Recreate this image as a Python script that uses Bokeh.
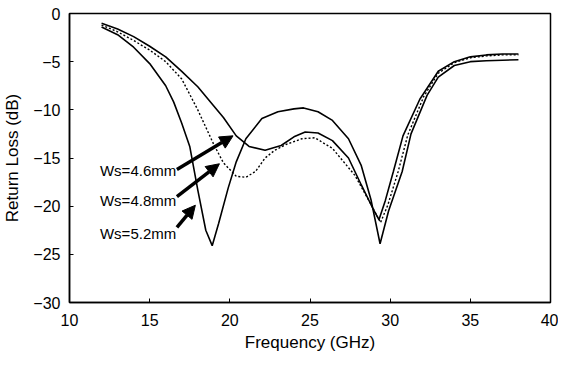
from bokeh.plotting import figure
from bokeh.models import Arrow, NormalHead, FixedTicker
from bokeh.core.properties import value
from bokeh.embed import file_html
from bokeh.resources import INLINE

# Ws = 4.6 mm (solid)
freq_46 = [12.0, 13.0, 14.0, 15.0, 16.0, 17.0, 18.0, 19.0, 19.6, 20.4, 21.2, 22.2, 23.2, 24.0, 24.7,
           25.5, 26.4, 27.4, 28.2, 29.0, 29.3, 29.7, 30.2, 30.8, 31.85, 33.0, 34.0, 35.0, 36.0, 37.0, 38.0]
rl_46 = [-1.0, -1.6, -2.4, -3.4, -4.5, -6.0, -7.6, -9.6, -10.8, -12.7, -13.8, -14.2, -13.7, -12.8, -12.3,
         -12.4, -13.2, -15.0, -17.8, -20.5, -21.4, -19.4, -16.4, -12.7, -8.9, -6.0, -5.0, -4.5, -4.3, -4.2, -4.2]

# Ws = 4.8 mm (dotted)
freq_48 = [12.0, 13.0, 14.0, 15.0, 16.0, 17.0, 18.0, 19.0, 19.6, 20.4, 21.0, 21.6, 22.2, 22.8, 23.5,
           24.5, 25.3, 26.4, 27.8, 28.8, 29.4, 29.85, 30.5, 31.1, 32.1, 33.0, 34.0, 35.0, 36.0, 37.0, 38.0]
rl_48 = [-1.2, -1.9, -2.8, -3.8, -5.0, -6.8, -10.0, -13.6, -15.5, -16.9, -17.0, -16.4, -15.0, -14.2, -13.6,
         -13.0, -12.9, -14.0, -16.8, -19.8, -21.7, -19.9, -16.4, -12.6, -8.6, -6.2, -5.1, -4.6, -4.4, -4.3, -4.3]

# Ws = 5.2 mm (solid, deep)
freq_52 = [12.0, 13.0, 14.0, 15.0, 16.0, 16.5, 17.0, 17.5, 18.0, 18.5, 18.9, 19.3, 19.9, 20.4, 21.0,
           22.0, 23.0, 24.0, 24.6, 25.5, 26.4, 27.4, 28.2, 28.8, 29.37, 29.9, 30.75, 31.3, 32.3, 33.0,
           34.0, 35.0, 36.0, 37.0, 38.0]
rl_52 = [-1.4, -2.2, -3.5, -5.2, -7.5, -9.2, -11.4, -13.8, -18.3, -22.5, -24.1, -21.8, -18.1, -15.4, -13.0,
         -10.9, -10.2, -9.9, -9.8, -10.2, -11.1, -13.0, -15.8, -19.3, -23.9, -20.5, -16.4, -12.5, -8.5, -6.6,
         -5.4, -5.0, -4.9, -4.85, -4.8]

x_ticks = [10, 15, 20, 25, 30, 35, 40]
y_ticks = [0, -5, -10, -15, -20, -25, -30]

labels = ["Ws=4.6mm", "Ws=4.8mm", "Ws=5.2mm"]
label_x = [11.9, 11.9, 11.9]
label_y = [-16.3, -19.4, -22.8]
arrow_x0 = [16.7, 16.7, 16.7]
arrow_y0 = [-16.2, -19.0, -22.2]
arrow_x1 = [20.2, 19.35, 17.85]
arrow_y1 = [-12.7, -15.6, -19.9]

FONT = "Liberation Sans"

p = figure(width=558, height=356, x_range=(10, 40), y_range=(-30, 0),
           output_backend="svg", toolbar_location=None,
           min_border_left=68, min_border_right=8, min_border_top=13, min_border_bottom=54)

p.background_fill_color = "white"
p.border_fill_color = "white"
p.outline_line_color = "black"
p.outline_line_width = 1.5
p.xgrid.visible = False
p.ygrid.visible = False

for ax in (p.xaxis, p.yaxis):
    ax.axis_line_color = "black"
    ax.axis_line_width = 1.5
    ax.major_tick_in = 4
    ax.major_tick_out = 0
    ax.minor_tick_in = 0
    ax.minor_tick_out = 0
    ax.major_tick_line_color = "black"
    ax.major_label_text_font = FONT
    ax.major_label_text_font_size = "16px"
    ax.major_label_text_color = "black"
    ax.axis_label_text_font = FONT
    ax.axis_label_text_font_size = "17px"
    ax.axis_label_text_font_style = "normal"
    ax.axis_label_text_color = "black"

p.xaxis.ticker = FixedTicker(ticks=x_ticks)
p.yaxis.ticker = FixedTicker(ticks=y_ticks)
p.xaxis.axis_label = "Frequency (GHz)"
p.yaxis.axis_label = "Return Loss (dB)"
p.xaxis.major_label_standoff = 11
p.yaxis.major_label_standoff = 9
p.xaxis.axis_label_standoff = 4
p.yaxis.axis_label_standoff = 8

p.line(freq_46, rl_46, line_color="black", line_width=1.6)
p.line(freq_48, rl_48, line_color="black", line_width=1.4, line_dash="2 2")
p.line(freq_52, rl_52, line_color="black", line_width=1.6)

p.text(x=label_x, y=label_y, text=labels, text_font=value(FONT), text_font_size="15px",
       text_baseline="middle", text_align="left", text_color="black")

for x0, y0, x1, y1 in zip(arrow_x0, arrow_y0, arrow_x1, arrow_y1):
    p.add_layout(Arrow(x_start=x0, y_start=y0, x_end=x1, y_end=y1,
                       line_color="black", line_width=3.5,
                       end=NormalHead(size=13, fill_color="black", line_color="black")))

open("out.html", "w").write(file_html(p, INLINE))
